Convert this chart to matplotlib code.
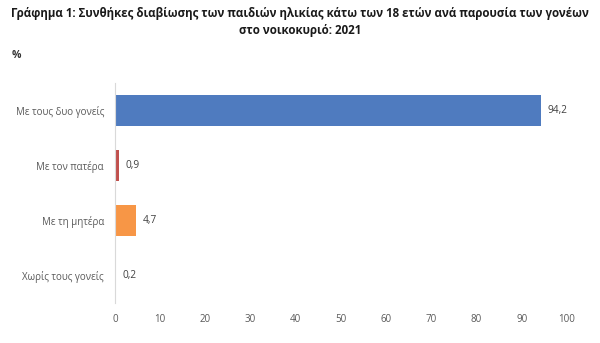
import matplotlib
matplotlib.use("Agg")
import matplotlib.pyplot as plt

plt.rcParams["font.family"] = ["Open Sans", "DejaVu Sans"]

# 数据
categories = ["Με τους δυο γονείς", "Με τον πατέρα", "Με τη μητέρα", "Χωρίς τους γονείς"]
values = [94.2, 0.9, 4.7, 0.2]
colors = ["#4F7BBF", "#C0504D", "#F79646", "#EDE070"]
xticks = [0, 10, 20, 30, 40, 50, 60, 70, 80, 90, 100]

fig = plt.figure(figsize=(6, 3.43), dpi=100)
ax = fig.add_axes([0.1917, 0.1166, 0.7533, 0.6414])

y = list(range(len(categories)))
ax.barh(y, values, height=0.58, color=colors)
ax.set_ylim(len(categories) - 0.5, -0.5)
ax.set_xlim(0, 100)

for yi, v in zip(y, values):
    ax.text(v + 1.4, yi, f"{v:.1f}".replace(".", ","), va="center", ha="left",
            fontsize=7.3, color="#404040")

ax.set_yticks(y)
ax.set_yticklabels(categories, fontsize=7, color="#595959")
ax.set_xticks(xticks)
ax.set_xticklabels([str(t) for t in xticks], fontsize=7, color="#595959")
ax.tick_params(axis="both", length=0)
ax.tick_params(axis="y", pad=8)
ax.tick_params(axis="x", pad=8)

for s in ["top", "right", "bottom"]:
    ax.spines[s].set_visible(False)
ax.spines["left"].set_color("#D9D9D9")
ax.spines["left"].set_linewidth(0.8)

fig.text(0.5, 0.962, "Γράφημα 1: Συνθήκες διαβίωσης των παιδιών ηλικίας κάτω των 18 ετών ανά παρουσία των γονέων",
         ha="center", va="center", fontsize=8.3, fontweight="bold", color="#1a1a1a")
fig.text(0.5, 0.912, "στο νοικοκυριό: 2021",
         ha="center", va="center", fontsize=8.3, fontweight="bold", color="#1a1a1a")
fig.text(0.02, 0.838, "%", ha="left", va="center", fontsize=7.5, fontweight="bold", color="#333333")

plt.savefig("out.png", dpi=100)
